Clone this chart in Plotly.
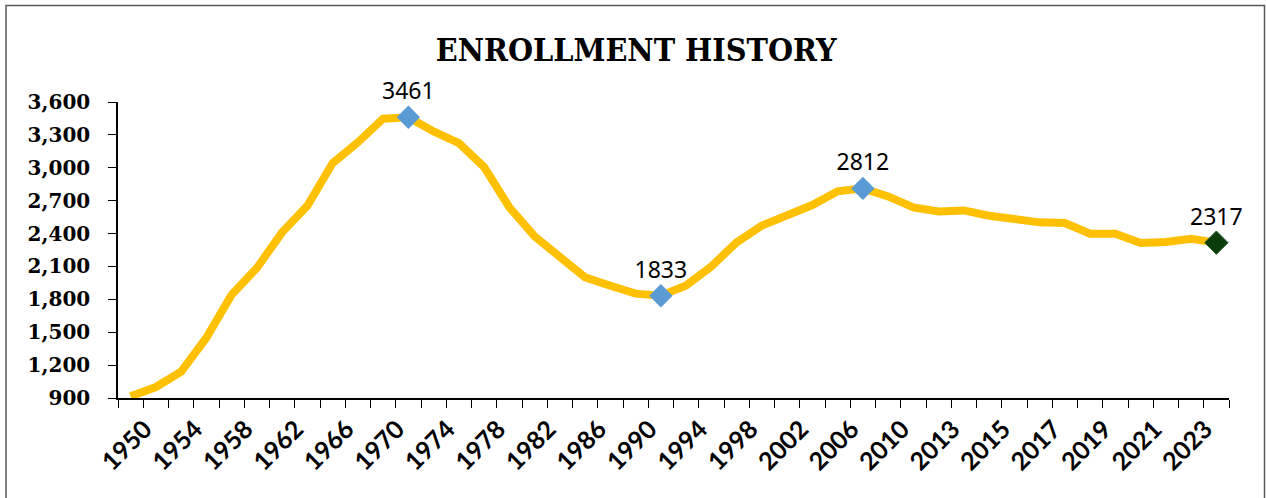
import plotly.graph_objects as go

years = [str(y) for y in range(1950, 2011, 2)] + ["2012"] + [str(y) for y in range(2013, 2025)]
enrollment = [915, 1000, 1140, 1450, 1842, 2086, 2411, 2654, 3043, 3232, 3448, 3461,
              3332, 3226, 3007, 2639, 2374, 2177, 2000, 1924, 1852, 1833,
              1927, 2101, 2320, 2472, 2566, 2660, 2785, 2812,
              2739, 2639, 2602, 2611, 2563, 2533, 2502, 2496, 2399, 2399, 2314, 2323, 2353, 2317]
highlight_years = ["1972", "1992", "2008"]
last_year = "2024"
y_ticks = list(range(900, 3601, 300))

hl_vals = [enrollment[years.index(y)] for y in highlight_years]
last_val = enrollment[years.index(last_year)]

label_font = dict(family="Noto Sans", size=23, color="#000")

fig = go.Figure()
fig.add_trace(go.Scatter(x=years, y=enrollment, mode="lines",
                         line=dict(color="#FFC000", width=8), showlegend=False))
fig.add_trace(go.Scatter(x=highlight_years, y=hl_vals, mode="markers+text",
                         marker=dict(symbol="diamond", size=18, color="#5B9BD5"),
                         text=[str(v) for v in hl_vals], textposition="top center",
                         textfont=label_font, cliponaxis=False, showlegend=False))
fig.add_trace(go.Scatter(x=[last_year], y=[last_val], mode="markers+text",
                         marker=dict(symbol="diamond", size=18, color="#0B3D0B",
                                     line=dict(color="#2E5E2E", width=1)),
                         text=[str(last_val)], textposition="top center",
                         textfont=label_font, cliponaxis=False, showlegend=False))

ticktext = [y if i % 2 == 0 else "" for i, y in enumerate(years)]

fig.update_layout(
    width=1266, height=498, autosize=False,
    margin=dict(l=118, r=37, t=102, b=100),
    paper_bgcolor="white", plot_bgcolor="white",
    title=dict(text="<b>ENROLLMENT HISTORY</b>", x=0.5025, xref="container", xanchor="center",
               y=1 - 50 / 498, yref="container", yanchor="middle",
               font=dict(family="DejaVu Serif Condensed, DejaVu Serif", size=32, color="#000")),
    xaxis=dict(type="category", categoryorder="array", categoryarray=years,
               range=[-0.5, len(years) - 0.5],
               tickmode="array", tickvals=years, ticktext=ticktext,
               tickson="boundaries", ticks="outside", ticklen=8, tickcolor="#000",
               showline=True, linecolor="#000", linewidth=1.5, showgrid=False,
               tickangle=-45, ticklabelshift=14, ticklabelstandoff=5,
               tickfont=dict(family="Lato", size=25, color="#000", weight="bold")),
    yaxis=dict(range=[900, 3600], tickmode="array", tickvals=y_ticks,
               tickformat=",", ticks="outside", ticklen=8, tickcolor="#000",
               showline=True, linecolor="#000", linewidth=1.5, showgrid=False, zeroline=False,
               ticklabelstandoff=14,
               tickfont=dict(family="DejaVu Serif", size=20, color="#000", weight="bold")),
)

# outer chart border
pw, ph = 1266 - 118 - 37, 498 - 102 - 100
fig.add_shape(type="rect", xref="paper", yref="paper",
              x0=(6 - 118) / pw, x1=(1264.5 - 118) / pw,
              y0=(398 - 502) / ph, y1=(398 - 5.5) / ph,
              line=dict(color="#595959", width=1.5), fillcolor="rgba(0,0,0,0)", layer="below")

fig.write_html("out.html", config={"displayModeBar": False},
               post_script="document.body.style.margin='0';document.body.style.overflow='hidden';")
